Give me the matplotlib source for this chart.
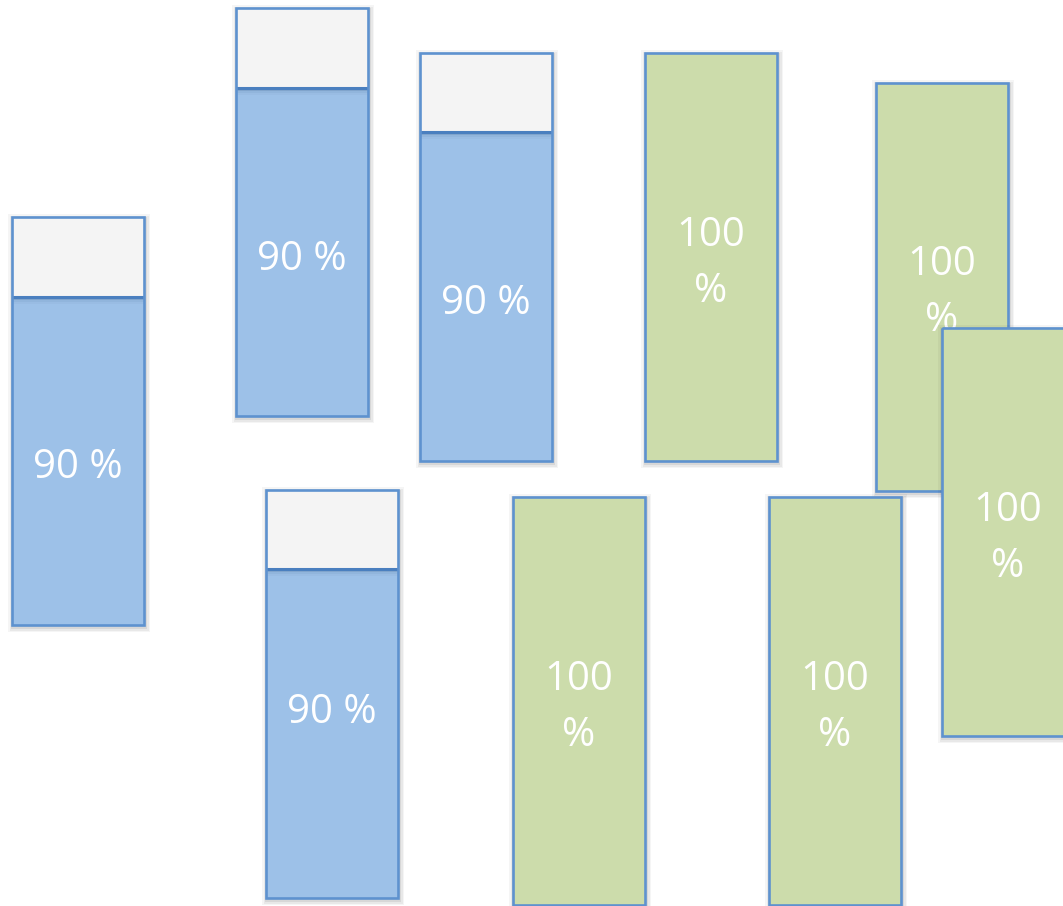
import matplotlib
matplotlib.use("Agg")
import matplotlib.pyplot as plt
from matplotlib.patches import Rectangle

# Data (pixel layout of the reference, y downward)
labels = ["90 %", "90 %", "90 %", "100\n%", "100\n%", "90 %", "100\n%", "100\n%", "100\n%"]
values = [90, 90, 90, 100, 100, 90, 100, 100, 100]
kinds = ["blue", "blue", "blue", "green", "green", "blue", "green", "green", "green"]
left = [12, 236, 420, 645, 876, 266, 513, 769, 942]
top = [217, 8, 53, 53, 83, 490, 497, 497, 328]
gray_h = [80, 80, 79, 0, 0, 79, 0, 0, 0]
label_y = [468, 260, 304, 264, 293, 713, 708, 708, 539]

W, H = 132, 408
fill = {"blue": "#9DC1E8", "green": "#CCDCAB"}
edge = "#5E92CF"
grayc = "#F4F4F4"

fig = plt.figure(figsize=(10.63, 9.06), dpi=100)
ax = fig.add_axes([0, 0, 1, 1])
ax.set_xlim(0, 1063)
ax.set_ylim(906, 0)
ax.axis("off")

for i in range(len(labels)):
    x, y = left[i], top[i]
    z = 10 + 3 * i
    # soft shadow
    for k, a in [(5, 0.04), (3.5, 0.05), (2, 0.07)]:
        ax.add_patch(Rectangle((x - k + 1, y - k + 2), W + 2 * k, H + 2 * k,
                               facecolor="#000000", edgecolor="none", alpha=a, zorder=z))
    ax.add_patch(Rectangle((x, y), W, H, facecolor=fill[kinds[i]], edgecolor="none", zorder=z + 0.5))
    g = gray_h[i]
    if g > 0:
        ax.add_patch(Rectangle((x, y), W, g, facecolor=grayc, edgecolor="none", zorder=z + 0.6))
        for k, a in [(1, 0.25), (3, 0.12), (5, 0.06), (7, 0.03)]:
            ax.add_patch(Rectangle((x, y + g), W, k, facecolor="#1F3F66", edgecolor="none",
                                   alpha=a, zorder=z + 0.7))
        ax.plot([x, x + W], [y + g, y + g], color="#4A7FBF", lw=2.2, zorder=z + 0.8,
                solid_capstyle="butt")
    ax.add_patch(Rectangle((x, y), W, H, facecolor="none", edgecolor=edge, lw=1.9, zorder=z + 0.9))
    ax.text(x + W / 2, label_y[i], labels[i], color="white", fontsize=29, family="Open Sans",
            ha="center", va="center", linespacing=1.5, zorder=z + 1)

fig.savefig("out.png", dpi=100)
